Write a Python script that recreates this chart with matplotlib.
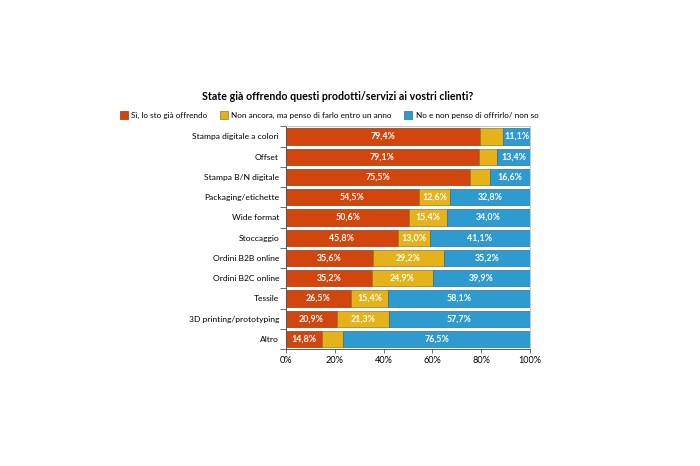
import matplotlib
matplotlib.use("Agg")
import matplotlib.pyplot as plt
from matplotlib.patches import Patch

plt.rcParams['font.family'] = ['Lato', 'DejaVu Sans']

categories = [
    "Stampa digitale a colori",
    "Offset",
    "Stampa B/N digitale",
    "Packaging/etichette",
    "Wide format",
    "Stoccaggio",
    "Ordini B2B online",
    "Ordini B2C online",
    "Tessile",
    "3D printing/prototyping",
    "Altro",
]
si = [79.4, 79.1, 75.5, 54.5, 50.6, 45.8, 35.6, 35.2, 26.5, 20.9, 14.8]
non_ancora = [9.5, 7.5, 7.9, 12.6, 15.4, 13.0, 29.2, 24.9, 15.4, 21.3, 8.7]
no = [11.1, 13.4, 16.6, 32.8, 34.0, 41.1, 35.2, 39.9, 58.1, 57.7, 76.5]
show_mid = [False, False, False, True, True, True, True, True, True, True, False]

series_names = ["Sì, lo sto già offrendo",
                "Non ancora, ma penso di farlo entro un anno",
                "No e non penso di offrirlo/ non so"]
colors = ["#D2450C", "#E5B21A", "#2E9BD0"]
edges = ["#8A3A12", "#8F7A2A", "#2A6F92"]

fig = plt.figure(figsize=(7, 4.66), dpi=100)
ax = fig.add_axes([0.4086, 0.251, 0.3486, 0.478])

y = list(range(len(categories)))
left2 = [a + b for a, b in zip(si, non_ancora)]
ax.barh(y, si, height=0.8, color=colors[0], edgecolor=edges[0], linewidth=0.5)
ax.barh(y, non_ancora, left=si, height=0.8, color=colors[1], edgecolor=edges[1], linewidth=0.5)
ax.barh(y, no, left=left2, height=0.8, color=colors[2], edgecolor=edges[2], linewidth=0.5)

def pct(v):
    return f"{v:.1f}%".replace(".", ",")

for i in y:
    ax.text(si[i] / 2, i, pct(si[i]), ha="center", va="center",
            color="white", fontsize=6.4, fontweight="bold")
    if show_mid[i]:
        ax.text(si[i] + non_ancora[i] / 2, i, pct(non_ancora[i]),
                ha="center", va="center", color="white", fontsize=6.4, fontweight="bold")
    ax.text(left2[i] + no[i] / 2, i, pct(no[i]), ha="center",
            va="center", color="white", fontsize=6.4, fontweight="bold")

ax.set_xlim(0, 100)
ax.set_ylim(len(categories) - 0.5, -0.5)
ax.set_xticks([0, 20, 40, 60, 80, 100])
ax.set_xticklabels(["0%", "20%", "40%", "60%", "80%", "100%"], fontsize=6.6)
ax.set_yticks(y)
ax.set_yticklabels(categories, fontsize=6.1)
ax.tick_params(axis="y", length=0, pad=5)
ax.set_yticks([i - 0.5 for i in range(len(categories) + 1)], minor=True)
ax.tick_params(axis="y", which="minor", length=4, color="#555555", width=0.6)
ax.tick_params(axis="x", length=3, color="#555555", width=0.6, pad=2)

for s in ["left", "bottom"]:
    ax.spines[s].set_color("#555555")
    ax.spines[s].set_linewidth(0.7)
for s in ["top", "right"]:
    ax.spines[s].set_color("#bbbbbb")
    ax.spines[s].set_linewidth(0.6)

fig.text(0.482, 0.792, "State già offrendo questi prodotti/servizi ai vostri clienti?",
         ha="center", va="center", fontsize=7.7, fontweight="bold")

handles = [Patch(facecolor=c, edgecolor=e, linewidth=0.5) for c, e in zip(colors, edges)]
fig.legend(handles, series_names, loc="center", bbox_to_anchor=(0.47, 0.753), ncol=3,
           frameon=False, fontsize=5.9, handlelength=1.0, handleheight=1.0,
           handletextpad=0.4, columnspacing=1.5)

fig.savefig("out.png", dpi=100)
